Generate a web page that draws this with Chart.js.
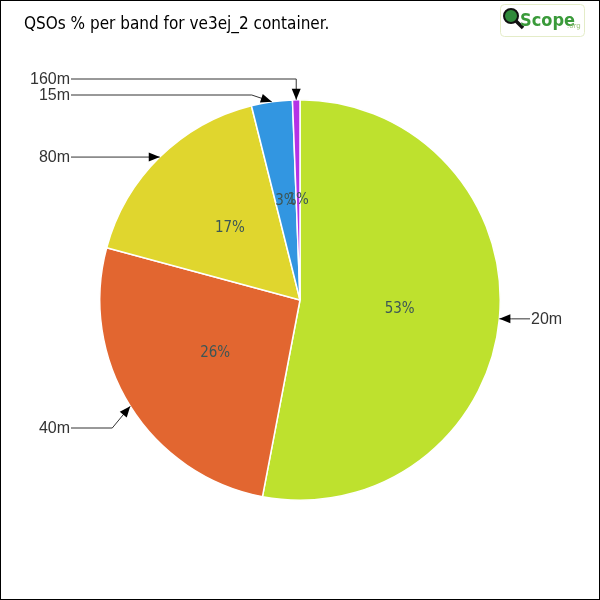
<!DOCTYPE html>
<html>
<head>
<meta charset="utf-8">
<script src="https://cdn.jsdelivr.net/npm/chart.js@4.4.0/dist/chart.umd.min.js"></script>
<style>
  body { margin: 0; background: #fff; }
  canvas { display: block; }
</style>
</head>
<body>
<canvas id="myChart" width="600" height="600"></canvas>
<script>
// QSO share per band (percent)
const bands = ['20m', '40m', '80m', '15m', '160m'];
const qsoShare = [53.0, 26.2, 16.9, 3.3, 0.6];
const sliceColors = ['#BEE12E', '#E26630', '#E0D62E', '#3296E1', '#B432E6'];

// where each outside label sits: side, y of label (null = follow arrow tip), elbow offset
const labelLayout = [
  { side: 'right', y: null, elbow: 0 },
  { side: 'left', y: 428, elbow: 18 },
  { side: 'left', y: null, elbow: 0 },
  { side: 'left', y: 95, elbow: 20 },
  { side: 'left', y: 79, elbow: 0 }
];

function arrowHead(ctx, fx, fy, tx, ty) {
  const a = Math.atan2(ty - fy, tx - fx);
  const len = 11, w = 4.5;
  ctx.beginPath();
  ctx.moveTo(tx, ty);
  ctx.lineTo(tx - len * Math.cos(a) + w * Math.sin(a), ty - len * Math.sin(a) - w * Math.cos(a));
  ctx.lineTo(tx - len * Math.cos(a) - w * Math.sin(a), ty - len * Math.sin(a) + w * Math.cos(a));
  ctx.closePath();
  ctx.fill();
}

const decorations = {
  id: 'decorations',
  afterDatasetsDraw(chart) {
    const ctx = chart.ctx;
    const meta = chart.getDatasetMeta(0);
    const total = qsoShare.reduce((a, b) => a + b, 0);
    ctx.save();

    // percent labels inside the slices
    ctx.font = '15px "Liberation Sans Narrow", "DejaVu Sans Condensed", sans-serif';
    ctx.fillStyle = '#3d5656';
    ctx.textAlign = 'center';
    ctx.textBaseline = 'middle';
    meta.data.forEach((arc, i) => {
      const p = arc.getProps(['x', 'y', 'startAngle', 'endAngle', 'outerRadius'], true);
      const mid = (p.startAngle + p.endAngle) / 2;
      const r = p.outerRadius / 2;
      const pct = Math.round(qsoShare[i] / total * 100);
      ctx.fillText(pct + '%', p.x + r * Math.cos(mid), p.y + r * Math.sin(mid));
    });

    // outside band labels with arrows
    ctx.font = '16px "Liberation Sans", sans-serif';
    ctx.strokeStyle = '#333';
    ctx.lineWidth = 1;
    meta.data.forEach((arc, i) => {
      const p = arc.getProps(['x', 'y', 'startAngle', 'endAngle', 'outerRadius'], true);
      const mid = (p.startAngle + p.endAngle) / 2;
      const tx = p.x + p.outerRadius * Math.cos(mid);
      const ty = p.y + p.outerRadius * Math.sin(mid);
      const lay = labelLayout[i];
      const ly = lay.y === null ? ty : lay.y;
      let startX, elbowX;
      ctx.fillStyle = '#333';
      if (lay.side === 'left') {
        ctx.textAlign = 'right';
        ctx.fillText(bands[i], 70, ly + 1);
        startX = 71;
        elbowX = tx - lay.elbow;
      } else {
        ctx.textAlign = 'left';
        ctx.fillText(bands[i], 531, ly + 1);
        startX = 530;
        elbowX = tx + 12;
      }
      ctx.beginPath();
      ctx.moveTo(startX, ly);
      ctx.lineTo(elbowX, ly);
      ctx.lineTo(tx, ty);
      ctx.stroke();
      ctx.fillStyle = '#000';
      const fromX = (ly === ty) ? startX : elbowX;
      arrowHead(ctx, fromX, ly, tx, ty);
    });

    // title
    ctx.fillStyle = '#000';
    ctx.textAlign = 'left';
    ctx.textBaseline = 'alphabetic';
    ctx.font = '17px "DejaVu Sans Condensed", "DejaVu Sans", sans-serif';
    ctx.fillText('QSOs % per band for ve3ej_2 container.', 24, 29);

    // logo
    ctx.strokeStyle = '#e4ecc8';
    ctx.lineWidth = 1;
    ctx.beginPath();
    ctx.roundRect(500.5, 4.5, 84, 32, 4);
    ctx.stroke();
    ctx.fillStyle = '#2f8a3a';
    ctx.beginPath();
    ctx.arc(511, 16, 7, 0, Math.PI * 2);
    ctx.fill();
    ctx.strokeStyle = '#111';
    ctx.lineWidth = 2;
    ctx.stroke();
    ctx.lineWidth = 3.5;
    ctx.beginPath();
    ctx.moveTo(516, 21);
    ctx.lineTo(523, 28);
    ctx.stroke();
    ctx.fillStyle = '#3a9a3a';
    ctx.font = 'bold 18px "Liberation Sans Narrow", "DejaVu Sans Condensed", sans-serif';
    ctx.fillText('Scope', 520, 26);
    ctx.fillStyle = '#9bc27a';
    ctx.font = '7px "DejaVu Sans", sans-serif';
    ctx.fillText('.org', 567, 28);

    // frame
    ctx.strokeStyle = '#000';
    ctx.lineWidth = 1;
    ctx.strokeRect(0.5, 0.5, 599, 599);
    ctx.restore();
  }
};

new Chart(document.getElementById('myChart'), {
  type: 'pie',
  data: {
    labels: bands,
    datasets: [{
      data: qsoShare,
      backgroundColor: sliceColors,
      borderColor: '#fff',
      borderWidth: 1.5
    }]
  },
  options: {
    responsive: false,
    animation: false,
    layout: { padding: 99 },
    plugins: {
      legend: { display: false },
      tooltip: { enabled: false }
    }
  },
  plugins: [decorations]
});
</script>
</body>
</html>
